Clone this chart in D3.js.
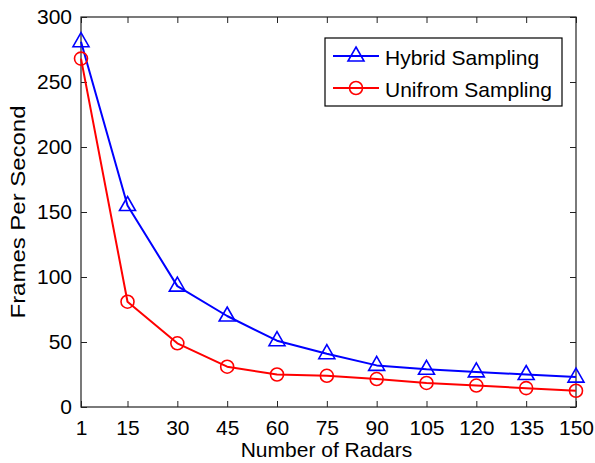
<!DOCTYPE html>
<html>
<head>
<meta charset="utf-8">
<script src="https://cdn.jsdelivr.net/npm/d3@7"></script>
<style>
  html, body { margin: 0; padding: 0; background: #fff; }
  svg { display: block; }
  text { font-family: "Liberation Sans", Arial, sans-serif; fill: #000; }
</style>
</head>
<body>
<svg id="chart" width="595" height="463"></svg>
<script>
const radars = [1, 15, 30, 45, 60, 75, 90, 105, 120, 135, 150];
const hybridSampling = [281, 155, 93, 70, 51, 41, 32, 29, 27, 25, 23];
const uniformSampling = [268, 81, 49, 31, 25, 24, 21.5, 18.5, 16.5, 14.5, 12.5];
const xTicks = [1, 15, 30, 45, 60, 75, 90, 105, 120, 135, 150];
const yTicks = [0, 50, 100, 150, 200, 250, 300];
const seriesNames = ["Hybrid Sampling", "Unifrom Sampling"];
const seriesColors = ["#0000ff", "#ff0000"];

const svg = d3.select("#chart");
const L = 81, R = 576, T = 17, B = 407;
const x = d3.scaleLinear().domain([1, 150]).range([L, R]);
const y = d3.scaleLinear().domain([0, 300]).range([B, T]);

const fontSize = 21;
const axisColor = "#222";

// Box
svg.append("rect").attr("x", L).attr("y", T).attr("width", R - L).attr("height", B - T)
  .attr("fill", "none").attr("stroke", axisColor).attr("stroke-width", 1.2);

// Bottom axis (inward ticks)
const gx = svg.append("g").attr("transform", `translate(0,${B})`)
  .call(d3.axisBottom(x).tickValues(xTicks).tickSizeInner(-6).tickSizeOuter(0).tickPadding(13).tickFormat(d3.format("d")));
gx.select(".domain").remove();
gx.selectAll("line").attr("stroke", axisColor);
gx.selectAll("text").attr("font-size", fontSize).attr("fill", "#000").style("font-family", "'Liberation Sans', Arial, sans-serif");

// Top ticks
const gxt = svg.append("g").attr("transform", `translate(0,${T})`)
  .call(d3.axisTop(x).tickValues(xTicks).tickSizeInner(-6).tickSizeOuter(0).tickFormat(""));
gxt.select(".domain").remove();
gxt.selectAll("line").attr("stroke", axisColor);

// Left axis
const gy = svg.append("g").attr("transform", `translate(${L},0)`)
  .call(d3.axisLeft(y).tickValues(yTicks).tickSizeInner(-6).tickSizeOuter(0).tickPadding(9).tickFormat(d3.format("d")));
gy.select(".domain").remove();
gy.selectAll("line").attr("stroke", axisColor);
gy.selectAll("text").attr("font-size", fontSize).attr("fill", "#000").style("font-family", "'Liberation Sans', Arial, sans-serif");

// Right ticks
const gyr = svg.append("g").attr("transform", `translate(${R},0)`)
  .call(d3.axisRight(y).tickValues(yTicks).tickSizeInner(-6).tickSizeOuter(0).tickFormat(""));
gyr.select(".domain").remove();
gyr.selectAll("line").attr("stroke", axisColor);

// Axis labels
svg.append("text").attr("x", (L + R) / 2 - 2).attr("y", 457)
  .attr("text-anchor", "middle").attr("font-size", fontSize).text("Number of Radars");
svg.append("text").attr("transform", `translate(25,${(T + B) / 2}) rotate(-90)`)
  .attr("text-anchor", "middle").attr("font-size", fontSize)
  .attr("textLength", 213).attr("lengthAdjust", "spacingAndGlyphs")
  .text("Frames Per Second");

// Markers
const triPath = "M0,-9 L8,5 L-8,5 Z";
function drawMarker(g, type, color, cx, cy) {
  if (type === 0) {
    g.append("path").attr("d", triPath).attr("transform", `translate(${cx},${cy})`)
      .attr("fill", "none").attr("stroke", color).attr("stroke-width", 1.6);
  } else {
    g.append("circle").attr("cx", cx).attr("cy", cy).attr("r", 6.5)
      .attr("fill", "none").attr("stroke", color).attr("stroke-width", 1.6);
  }
}

const allSeries = [hybridSampling, uniformSampling];
const line = d3.line().x((d, i) => x(radars[i])).y(d => y(d));
allSeries.forEach((vals, s) => {
  const g = svg.append("g");
  g.append("path").datum(vals).attr("d", line).attr("fill", "none")
    .attr("stroke", seriesColors[s]).attr("stroke-width", 2).attr("stroke-linejoin", "round");
  vals.forEach((v, i) => drawMarker(g, s, seriesColors[s], x(radars[i]), y(v)));
});

// Legend
const lg = svg.append("g");
lg.append("rect").attr("x", 325).attr("y", 38).attr("width", 237).attr("height", 68)
  .attr("fill", "#fff").attr("stroke", "#000").attr("stroke-width", 1.2);
seriesNames.forEach((name, s) => {
  const ly = 56 + s * 32;
  lg.append("line").attr("x1", 333).attr("x2", 379).attr("y1", ly).attr("y2", ly)
    .attr("stroke", seriesColors[s]).attr("stroke-width", 2);
  drawMarker(lg, s, seriesColors[s], 356, ly);
  lg.append("text").attr("x", 385).attr("y", ly + 9).attr("font-size", fontSize).text(name);
});
</script>
</body>
</html>
